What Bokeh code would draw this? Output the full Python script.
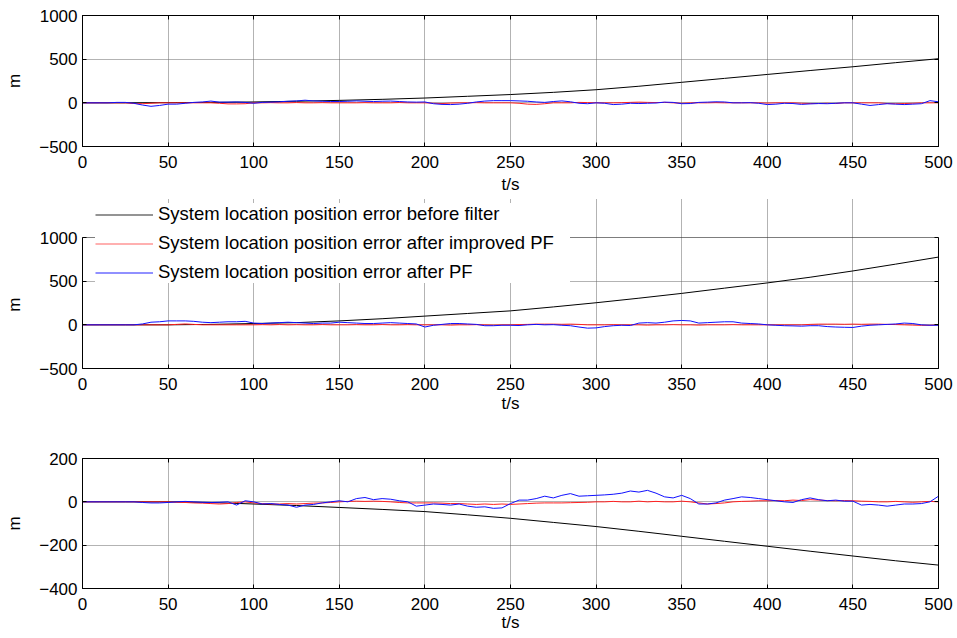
from bokeh.plotting import figure
from bokeh.models import LinearAxis, FixedTicker, Legend, LegendItem, Range1d, BoxAnnotation
from bokeh.layouts import column
from bokeh.embed import file_html
from bokeh.resources import INLINE

# ---------------- data ----------------
t_fine = list(range(0, 505, 5))      # 5 s grid for filtered errors
t_coarse = list(range(0, 525, 25))   # 25 s grid for unfiltered error
x_ticks = [0, 50, 100, 150, 200, 250, 300, 350, 400, 450, 500]
y_ticks_top = [-500, 0, 500, 1000]
y_ticks_mid = [-500, 0, 500, 1000]
y_ticks_bot = [-400, -200, 0, 200]

labels = ["System location position error before filter",
          "System location position error after improved PF",
          "System location position error after PF"]

# panel 1
black_1 = [0, 0, 2, 5, 10, 18, 28, 40, 55, 75, 95, 120, 150, 190, 235, 280, 325, 370, 413, 460, 505]
red_1 = [0, 0, 0, 0, 0, 0, -8, -10, -5, 0,
         0, 0, 0, 0, 0, 0, -5, -12, -12, -10,
         0, 0, 2, 0, 0, 3, 0, 0, 2, 0,
         0, 0, 0, 2, 0, 0, 0, 3, 0, 0,
         0, -5, -8, -3, 0, 0, 2, 0, 0, 0,
         0, -5, -15, -18, -10, 0, 0, 0, 5, 3,
         0, 0, 0, 2, 5, 8, 5, 3, 5, 0,
         -5, 0, 0, 0, 2, 0, 0, 0, 0, 0,
         -3, 0, 0, 0, -5, -8, -8, -5, -8, 0,
         0, 0, 0, 0, -8, -10, -8, -5, 0, 0,
         0]
blue_1 = [0, 0, 0, 0, 5, 5, -5, -25, -40, -30,
          -15, -15, -5, 5, 10, 20, 8, 8, 10, 5,
          -5, 5, 8, 12, 18, 22, 30, 22, 18, 15,
          15, 18, 22, 18, 15, 18, 20, 15, 10, 8,
          10, -10, -18, -20, -15, -5, 10, 20, 25, 25,
          25, 22, 18, 10, 5, 15, 22, 12, -5, -10,
          0, -5, -20, -15, -5, -8, -5, -2, 8, 5,
          -10, -8, 5, 8, 12, 10, 0, 0, 2, -5,
          -20, -15, -5, -8, -18, -12, -8, -10, -5, 0,
          0, -15, -30, -20, -10, -15, -20, -15, -10, 25,
          12]

# panel 2
black_2 = [0, 0, 0, 5, 15, 25, 45, 70, 100, 130, 160, 205, 253, 305, 360, 420, 480, 545, 617, 695, 776]
red_2 = [0, 0, 0, 0, 0, 0, 0, 0, 0, 0,
         0, 5, 10, 5, 0, 0, 0, 0, 0, 0,
         0, 2, 0, 3, 0, 2, 0, 0, 3, 0,
         0, 0, 2, 0, 0, 3, 0, 0, 2, 0,
         0, 0, 0, -3, 0, 0, 2, 0, -3, 0,
         0, 3, 5, 8, 8, 8, 6, 8, 5, 0,
         0, 0, 2, 0, 0, 0, -3, 0, 0, 2,
         0, 0, -3, 0, 0, 0, 2, 0, 0, 0,
         0, 0, 0, 0, 0, 5, 8, 8, 8, 6,
         8, 6, 8, 8, 5, 3, 0, -3, -6, -5,
         0]
blue_2 = [0, 0, 0, 0, 0, 0, 0, 10, 30, 35,
          45, 45, 45, 40, 30, 25, 30, 35, 35, 40,
          20, 15, 20, 25, 30, 25, 20, 15, 20, 20,
          30, 25, 20, 15, 15, 20, 25, 20, 15, 10,
          -25, -5, 5, 15, 15, 10, 5, -10, -10, -5,
          -5, -8, 0, 5, 0, 2, -5, -10, -25, -38,
          -35, -20, -10, -5, -8, 20, 25, 20, 30, 45,
          50, 45, 20, 25, 30, 35, 35, 20, 15, 10,
          0, -5, -10, -12, -15, -10, -10, -20, -25, -28,
          -30, -15, -5, 0, 5, 10, 20, 15, 0, -5,
          -5]

# panel 3
black_3 = [0, 0, 0, -3, -10, -17, -26, -35, -45, -60, -76, -95, -114, -136, -159, -182, -205, -228, -250, -272, -292]
red_3 = [0, 0, 0, 0, 0, 0, 0, 0, 0, 0,
         0, -2, -3, -5, -6, -8, -10, -8, -3, 0,
         -5, -8, -10, -10, -8, -10, -8, -6, -5, -3,
         0, 2, 3, 2, 3, 2, 0, -3, -5, -5,
         -5, -5, -6, -8, -8, -10, -12, -10, -12, -10,
         -12, -10, -8, -6, -5, -5, -5, -4, -3, -2,
         0, 0, 2, 0, 0, 3, 0, 2, 0, 0,
         3, 0, -5, -10, -8, -5, 0, 2, 3, 5,
         5, 6, 5, 8, 6, 10, 8, 6, 5, 6,
         5, 3, 2, 0, 0, 2, 0, -2, 0, 2,
         0]
blue_3 = [0, 0, 0, 0, 0, 0, 0, -3, -5, -5,
          -3, 0, 2, 0, -2, -3, -2, 0, -15, 5,
          0, -10, -8, -12, -15, -25, -15, -12, -5, 0,
          5, 0, 15, 20, 10, 15, 12, 5, 0, -20,
          -15, -10, -12, -15, -10, -20, -25, -23, -30, -28,
          -8, 8, 8, 15, 26, 18, 30, 38, 26, 28,
          30, 32, 35, 40, 50, 45, 53, 40, 23, 18,
          30, 15, -10, -10, -5, 8, 15, 23, 20, 15,
          10, 5, 0, -3, 10, 18, 10, 5, 8, 3,
          3, -15, -12, -15, -20, -15, -10, -10, -8, 0,
          26]

# ---------------- styling ----------------
FONT = "Liberation Sans"
FW = 856
X_RANGE = (0, 500)
NAN = float("nan")


def inner_axis(ticks, bounds="auto"):
    return LinearAxis(ticker=FixedTicker(ticks=ticks), major_label_text_font_size="1px",
                      major_label_text_color=None, bounds=bounds,
                      major_label_standoff=0, major_tick_in=4, major_tick_out=0,
                      minor_tick_line_color=None, axis_line_color="black",
                      major_tick_line_color="black")


def make_panel(black, red, blue, yr, yticks, top, bottom, frame_h, label_standoff, ext_px=0):
    # ext_px: extra frame height above the top tick (room for an overlapping legend)
    y0, y1 = yr
    y_top = y1 + (y1 - y0) * ext_px / frame_h
    p = figure(frame_width=FW, frame_height=frame_h + ext_px, x_range=Range1d(*X_RANGE),
               y_range=Range1d(y0, y_top), output_backend="svg", toolbar_location=None,
               title=None, min_border_left=82, min_border_right=17,
               min_border_top=top, min_border_bottom=bottom,
               background_fill_color="white", border_fill_color="white")
    p.xaxis.ticker = FixedTicker(ticks=x_ticks)
    p.yaxis.ticker = FixedTicker(ticks=yticks)
    p.xgrid.ticker = FixedTicker(ticks=x_ticks)
    p.ygrid.ticker = FixedTicker(ticks=yticks)
    for g in (p.xgrid, p.ygrid):
        g.grid_line_color = "#666666"
        g.grid_line_dash = "1 1"
        g.grid_line_width = 1
    for ax in (p.xaxis, p.yaxis):
        ax.axis_line_color = "black"
        ax.major_tick_in = 4
        ax.major_tick_out = 0
        ax.major_tick_line_color = "black"
        ax.minor_tick_line_color = None
        ax.major_label_text_font = FONT
        ax.major_label_text_font_size = "17px"
        ax.major_label_text_color = "black"
        ax.axis_label_text_font = FONT
        ax.axis_label_text_font_size = "17px"
        ax.axis_label_text_font_style = "normal"
        ax.axis_label_text_color = "black"
    p.xaxis.major_label_standoff = 9
    p.yaxis.major_label_standoff = 5
    p.xaxis.axis_label = "t/s"
    p.xaxis.axis_label_standoff = label_standoff
    p.yaxis.axis_label_standoff = 12
    if ext_px:
        # centre the "m" on the visible box, not on the enlarged frame
        p.yaxis.axis_label = "m" + "\u00a0" * 9
        p.yaxis.bounds = (y0, y1)
        p.xgrid.bounds = (y0, y1)
        p.outline_line_color = None
        p.add_layout(BoxAnnotation(left=X_RANGE[0], right=X_RANGE[1], bottom=y0, top=y1,
                                   fill_color=None, line_color="black", line_width=1))
        p.add_layout(inner_axis(yticks, bounds=(y0, y1)), "right")
    else:
        p.yaxis.axis_label = "m"
        p.outline_line_color = "black"
        p.outline_line_alpha = 1
        p.outline_line_width = 1
        p.add_layout(inner_axis(x_ticks), "above")
        p.add_layout(inner_axis(yticks), "right")

    p.line(t_coarse, black, line_color="black", line_width=1)
    p.line(t_fine, red, line_color="#ff2020", line_width=1)
    p.line(t_fine, blue, line_color="#1010ff", line_width=1)
    return p


p1 = make_panel(black_1, red_1, blue_1, (-500, 1000), y_ticks_top, 15, 51, 131, 4)
p2 = make_panel(black_2, red_2, blue_2, (-500, 1000), y_ticks_mid, 1, 50, 131, 1, ext_px=39)
p3 = make_panel(black_3, red_3, blue_3, (-400, 200), y_ticks_bot, 40, 47, 130, 0)

# legend in the middle panel (samples drawn lighter, as in the reference)
r_a = p2.line(x=[NAN], y=[NAN], line_color="#707070", line_width=1.5)
r_b = p2.line(x=[NAN], y=[NAN], line_color="#ffb0b0", line_width=2)
r_c = p2.line(x=[NAN], y=[NAN], line_color="#9090ff", line_width=2)
legend = Legend(items=[LegendItem(label=labels[0], renderers=[r_a]),
                       LegendItem(label=labels[1], renderers=[r_b]),
                       LegendItem(label=labels[2], renderers=[r_c])],
                location=(13, 85), padding=4, spacing=7, glyph_width=58, glyph_height=21,
                label_height=21, label_width=412, label_standoff=5, label_text_font=FONT,
                label_text_font_size="18.5px", label_text_color="black",
                border_line_color=None, background_fill_color="white",
                background_fill_alpha=1, margin=0)
p2.add_layout(legend, "center")

layout = column(p1, p2, p3, spacing=0)
open("out.html", "w").write(file_html(layout, INLINE))
